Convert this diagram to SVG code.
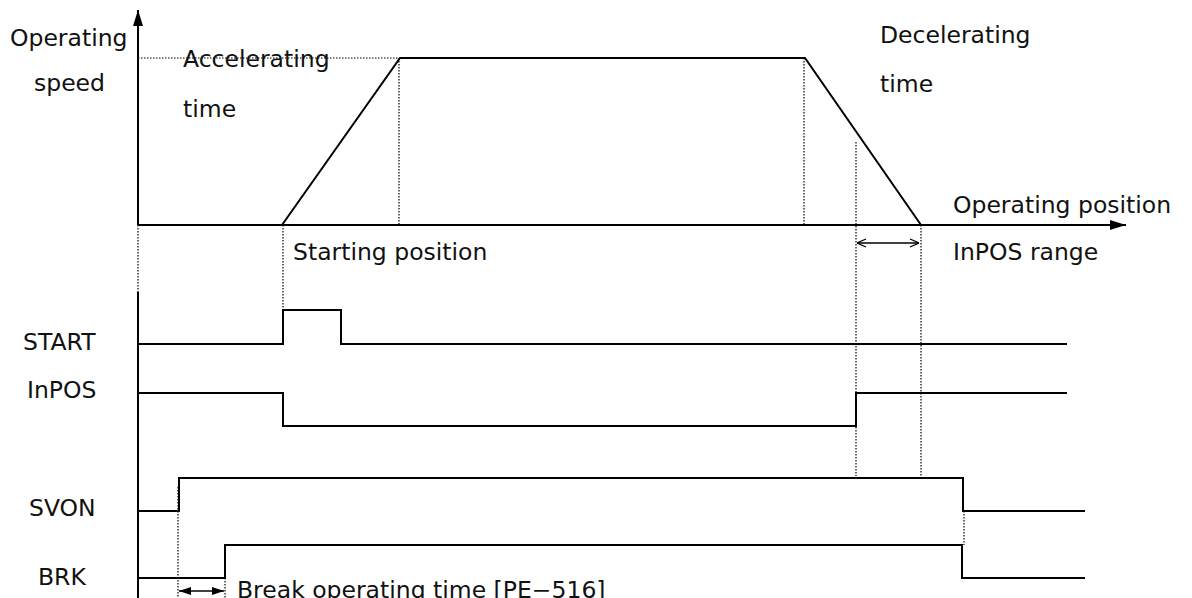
<svg xmlns="http://www.w3.org/2000/svg" width="1192" height="598" viewBox="0 0 1192 598">
  <style>
    .lbl { font-family: "DejaVu Sans", "Liberation Sans", sans-serif; font-size: 23.5px; fill: #111; }
    .solid { fill: none; stroke: #000; stroke-width: 2; }
    .thin { fill: none; stroke: #000; stroke-width: 1.3; }
    .dot { fill: none; stroke: #000; stroke-width: 1.2; stroke-dasharray: 1.5 1.5; }
  </style>
  <defs>
    <marker id="headFill" viewBox="0 0 12 10" refX="12" refY="5" markerWidth="12" markerHeight="10" markerUnits="userSpaceOnUse" orient="auto-start-reverse">
      <path d="M0,1 L12,5 L0,9 Z" fill="#000"/>
    </marker>
    <marker id="headAxis" viewBox="0 0 16 10" refX="16" refY="5" markerWidth="17" markerHeight="10" markerUnits="userSpaceOnUse" orient="auto">
      <path d="M0,0 L16,5 L0,10 Z" fill="#000"/>
    </marker>
    <marker id="headOpen" viewBox="0 0 10 10" refX="10" refY="5" markerWidth="10" markerHeight="10" markerUnits="userSpaceOnUse" orient="auto-start-reverse">
      <path d="M1,1 L10,5 L1,9" fill="none" stroke="#000" stroke-width="1.3"/>
    </marker>
  </defs>

  <rect width="1192" height="598" fill="#fff"/>

  <!-- guide lines (dotted) -->
  <g id="guides">
    <line class="dot" x1="138" y1="58" x2="399" y2="58"/>
    <line class="dot" x1="399" y1="58" x2="399" y2="225"/>
    <line class="dot" x1="804" y1="58" x2="804" y2="225"/>
    <line class="dot" x1="856" y1="142" x2="856" y2="476"/>
    <line class="dot" x1="921" y1="225" x2="921" y2="476"/>
    <line class="dot" x1="138" y1="225" x2="138" y2="292"/>
    <line class="dot" x1="283" y1="225" x2="283" y2="310"/>
    <line class="dot" x1="178" y1="487" x2="178" y2="598"/>
    <line class="dot" x1="225" y1="578" x2="225" y2="598"/>
    <line class="dot" x1="964" y1="511" x2="964" y2="545"/>
  </g>

  <!-- axes -->
  <g id="axes">
    <line class="solid" x1="138" y1="225" x2="138" y2="10" marker-end="url(#headAxis)"/>
    <line class="solid" x1="138" y1="225" x2="1126" y2="225" marker-end="url(#headAxis)"/>
    <line class="solid" x1="138" y1="292" x2="138" y2="598"/>
  </g>

  <!-- speed profile -->
  <g id="profile">
    <polyline class="solid" points="282,225 400,58 805,58 921,225"/>
  </g>

  <!-- signals -->
  <g id="sig-start">
    <polyline class="solid" points="138,344 283,344 283,310 341,310 341,344 1067,344"/>
  </g>
  <g id="sig-inpos">
    <polyline class="solid" points="138,393 283,393 283,426 856,426 856,393 1067,393"/>
  </g>
  <g id="sig-svon">
    <polyline class="solid" points="138,511 179,511 179,478 963,478 963,511 1085,511"/>
  </g>
  <g id="sig-brk">
    <polyline class="solid" points="138,578 225,578 225,545 962,545 962,578 1085,578"/>
  </g>

  <!-- interval arrows -->
  <g id="connectors">
    <line class="thin" x1="857" y1="243" x2="919" y2="243" marker-start="url(#headOpen)" marker-end="url(#headOpen)"/>
    <line class="thin" x1="179" y1="591" x2="224" y2="591" marker-start="url(#headFill)" marker-end="url(#headFill)"/>
  </g>

  <!-- labels -->
  <g id="labels">
    <text class="lbl" x="10" y="46">Operating</text>
    <text class="lbl" x="34" y="91">speed</text>
    <text class="lbl" x="183" y="67">Accelerating</text>
    <text class="lbl" x="183" y="117">time</text>
    <text class="lbl" x="880" y="43">Decelerating</text>
    <text class="lbl" x="880" y="92">time</text>
    <text class="lbl" x="953" y="213">Operating position</text>
    <text class="lbl" x="953" y="260">InPOS range</text>
    <text class="lbl" x="293" y="260">Starting position</text>
    <text class="lbl" x="23" y="350">START</text>
    <text class="lbl" x="27" y="398">InPOS</text>
    <text class="lbl" x="29" y="516">SVON</text>
    <text class="lbl" x="38" y="585">BRK</text>
    <text class="lbl" x="237" y="598">Break operating time [PE−516]</text>
  </g>
</svg>
